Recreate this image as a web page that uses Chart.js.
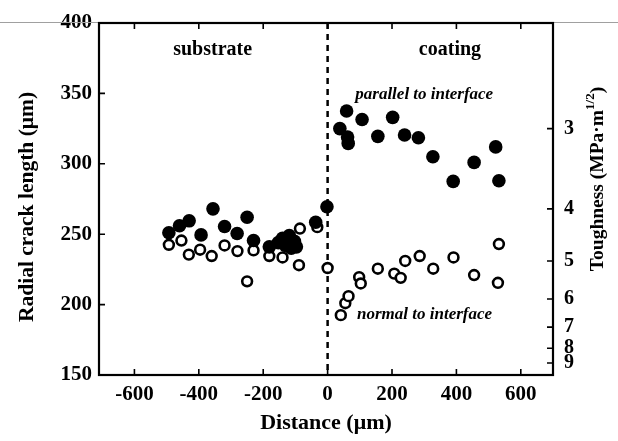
<!DOCTYPE html>
<html><head><meta charset="utf-8">
<script src="https://cdn.jsdelivr.net/npm/chart.js@4"></script>
<style>html,body{margin:0;padding:0;background:#fff}</style>
</head><body>
<canvas id="c" width="618" height="441"></canvas>
<script>
// ---- data ----
const xTicks = [-600, -400, -200, 0, 200, 400, 600];
const yTicks = [150, 200, 250, 300, 350, 400];
const toughnessLabels = [3, 4, 5, 6, 7, 8, 9];
const toughnessTickLengths = [325, 268, 231, 204, 184, 169, 158.5];

const parallelX = [-493,-460,-430,-393,-356,-320,-281,-250,-230,-181,-153,-140,-131,-119,-113,-103,-97,-37,-2,
                   38,59,62,64,107,156,202,239,282,327,390,455,522,532];
const parallelY = [251,256,259.5,249.5,268,255.5,250.5,262,245.5,241,244,247,242,249,240,245,241,258.5,269.5,
                   325,337.5,319,314.5,331.5,319.5,333,320.5,318.5,305,287.5,301,312,288];

const normalX = [-493,-454,-431,-396,-360,-320,-280,-250,-230,-181,-140,-89,-86,-32,0,
                 41,55,65,98,103,156,207,227,241,286,328,391,455,532,529];
const normalY = [242.5,245.5,235.5,239,234.5,242,238,216.5,238.5,234.5,233.5,228,254,255,226,
                 192.5,201,206,219.5,215,225.5,222,219,231,234.5,225.5,233.5,221,243,215.5];

const SERIF = '"Liberation Serif", "Times New Roman", serif';

const decor = {
  id: 'decor',
  beforeDatasetsDraw(chart) {
    const {ctx, chartArea: a, scales: {x}} = chart;
    const x0 = x.getPixelForValue(0);
    ctx.save();
    ctx.strokeStyle = '#000';
    ctx.lineWidth = 2.5;
    ctx.setLineDash([6, 5]);
    ctx.beginPath();
    ctx.moveTo(x0, a.top);
    ctx.lineTo(x0, a.bottom);
    ctx.stroke();
    ctx.restore();
  },
  afterDraw(chart) {
    const {ctx, chartArea: a, scales: {x, y, y2}} = chart;
    ctx.save();
    // faint scan line along the top
    ctx.strokeStyle = '#a0a0a0';
    ctx.lineWidth = 1;
    ctx.beginPath(); ctx.moveTo(0, a.top - 0.5); ctx.lineTo(chart.width, a.top - 0.5); ctx.stroke();
    // frame
    ctx.strokeStyle = '#000';
    ctx.lineWidth = 2.2;
    ctx.strokeRect(a.left, a.top, a.right - a.left, a.bottom - a.top);
    // inward ticks
    ctx.lineWidth = 1.6;
    ctx.beginPath();
    x.ticks.forEach(t => {
      const px = x.getPixelForValue(t.value);
      ctx.moveTo(px, a.bottom); ctx.lineTo(px, a.bottom - 6);
      ctx.moveTo(px, a.top); ctx.lineTo(px, a.top + 6);
    });
    y.ticks.forEach(t => {
      const py = y.getPixelForValue(t.value);
      ctx.moveTo(a.left, py); ctx.lineTo(a.left + 6, py);
    });
    y2.ticks.forEach(t => {
      const py = y2.getPixelForValue(t.value);
      ctx.moveTo(a.right, py); ctx.lineTo(a.right - 6, py);
    });
    ctx.stroke();

    ctx.fillStyle = '#000';
    ctx.textBaseline = 'middle';
    ctx.textAlign = 'center';
    // region labels
    ctx.font = 'bold 20px ' + SERIF;
    ctx.fillText('substrate', x.getPixelForValue(-357), y.getPixelForValue(381));
    ctx.fillText('coating', x.getPixelForValue(380), y.getPixelForValue(381));
    ctx.font = 'italic bold 17px ' + SERIF;
    ctx.fillText('parallel to interface', x.getPixelForValue(300), y.getPixelForValue(349));
    ctx.fillText('normal to interface', x.getPixelForValue(301), y.getPixelForValue(193));

    // axis titles
    ctx.font = 'bold 22px ' + SERIF;
    ctx.fillText('Distance (\u03bcm)', (a.left + a.right) / 2, 423);

    ctx.save();
    ctx.translate(27, 207);
    ctx.rotate(-Math.PI / 2);
    ctx.font = 'bold 21.5px ' + SERIF;
    ctx.fillText('Radial crack length (\u03bcm)', 0, 0);
    ctx.restore();

    // right title with superscript
    ctx.save();
    ctx.translate(598, 179);
    ctx.rotate(-Math.PI / 2);
    ctx.textAlign = 'left';
    const mainFont = 'bold 19.5px ' + SERIF, supFont = 'bold 13px ' + SERIF;
    ctx.font = mainFont;
    const t1 = 'Toughness (MPa\u00b7m', t3 = ')';
    const w1 = ctx.measureText(t1).width, w3 = ctx.measureText(t3).width;
    ctx.font = supFont;
    const w2 = ctx.measureText('1/2').width;
    let sx = -(w1 + w2 + w3) / 2;
    ctx.font = mainFont; ctx.fillText(t1, sx, 0); sx += w1;
    ctx.font = supFont; ctx.fillText('1/2', sx, -7); sx += w2;
    ctx.font = mainFont; ctx.fillText(t3, sx, 0);
    ctx.restore();

    ctx.restore();
  }
};

new Chart(document.getElementById('c'), {
  type: 'scatter',
  data: {
    datasets: [
      {
        label: 'parallel to interface',
        data: parallelX.map((v, i) => ({x: v, y: parallelY[i]})),
        pointRadius: 6.8,
        pointBackgroundColor: '#000',
        pointBorderColor: '#000',
        pointBorderWidth: 0,
        yAxisID: 'y'
      },
      {
        label: 'normal to interface',
        data: normalX.map((v, i) => ({x: v, y: normalY[i]})),
        pointRadius: 4.9,
        pointBackgroundColor: '#fff',
        pointBorderColor: '#000',
        pointBorderWidth: 2.6,
        yAxisID: 'y'
      }
    ]
  },
  options: {
    responsive: false,
    animation: false,
    devicePixelRatio: 1,
    layout: {padding: {top: 15, left: 0, right: 0, bottom: 0}},
    plugins: {legend: {display: false}, tooltip: {enabled: false}},
    scales: {
      x: {
        type: 'linear', position: 'bottom', min: -710, max: 700,
        afterBuildTicks: s => { s.ticks = xTicks.map(v => ({value: v})); },
        afterFit: s => { s.height = 66; },
        grid: {display: false, drawTicks: false},
        border: {display: false},
        ticks: {color: '#000', padding: 7, autoSkip: false, maxRotation: 0,
                font: {family: SERIF, size: 21, weight: 'bold'}}
      },
      y: {
        type: 'linear', position: 'left', min: 150, max: 400,
        afterBuildTicks: s => { s.ticks = yTicks.map(v => ({value: v})); },
        afterFit: s => { s.width = 99; },
        grid: {display: false, drawTicks: false},
        border: {display: false},
        ticks: {color: '#000', padding: 7, autoSkip: false,
                font: {family: SERIF, size: 21, weight: 'bold'}}
      },
      y2: {
        type: 'linear', position: 'right', min: 150, max: 400,
        afterBuildTicks: s => { s.ticks = toughnessTickLengths.map(v => ({value: v})); },
        afterFit: s => { s.width = 65; },
        grid: {display: false, drawTicks: false},
        border: {display: false},
        ticks: {color: '#000', padding: 11, autoSkip: false,
                font: {family: SERIF, size: 20, weight: '600'},
                callback: (v, i) => String(toughnessLabels[i])}
      }
    }
  },
  plugins: [decor]
});
</script>
</body></html>
